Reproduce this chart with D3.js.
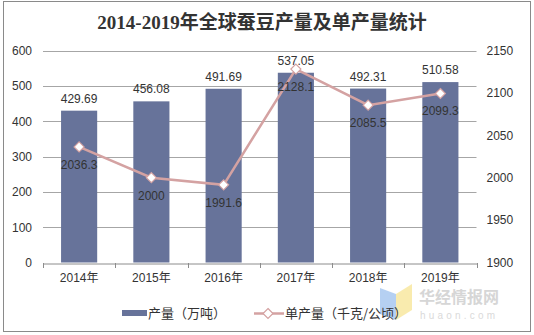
<!DOCTYPE html>
<html><head><meta charset="utf-8">
<script src="https://cdn.jsdelivr.net/npm/d3@7"></script>
<style>body{margin:0;background:#fff}svg{display:block}</style>
</head><body>
<svg id="c" width="534" height="335"></svg>
<script>
const years = ["2014年","2015年","2016年","2017年","2018年","2019年"];
const output = [429.69,456.08,491.69,537.05,492.31,510.58];
const yieldV = [2036.3,2000,1991.6,2128.1,2085.5,2099.3];
const outputLabels = ["429.69","456.08","491.69","537.05","492.31","510.58"];
const yieldLabels = ["2036.3","2000","1991.6","2128.1","2085.5","2099.3"];
const leftTicks = [0,100,200,300,400,500,600];
const rightTicks = [1900,1950,2000,2050,2100,2150];

const svg = d3.select("#c");
const barColor = "#67739a", lineColor = "#d4a2a2";
const font = "'Liberation Sans', Arial, 'Noto Sans CJK SC', sans-serif";
const L = 43, R = 476.5, T = 50.5, B = 262.5;

svg.append("rect").attr("x",3.5).attr("y",1.5).attr("width",527).attr("height",330)
  .attr("fill","#fff").attr("stroke","#8a8a8a").attr("stroke-width",1);

svg.append("text").attr("x",262).attr("y",29).attr("text-anchor","middle")
  .attr("font-family","'Liberation Serif','Noto Sans CJK SC',serif").attr("font-weight","bold")
  .attr("font-size",19).attr("fill","#333").text("2014-2019年全球蚕豆产量及单产量统计");

const x = d3.scaleBand().domain(years).range([L,R]).paddingInner(0.5).paddingOuter(0.25);
const xb = d3.scaleBand().domain(years).range([L,R]);
const yL = d3.scaleLinear().domain([0,600]).range([B,T]);
const yR = d3.scaleLinear().domain([1900,2150]).range([B,T]);

// gridlines
svg.append("g").selectAll("line").data(leftTicks.slice(1)).join("line")
  .attr("x1",L).attr("x2",R).attr("y1",d=>Math.round(yL(d))+0.5).attr("y2",d=>Math.round(yL(d))+0.5)
  .attr("stroke","#a6a6a6");

// bars
svg.append("g").selectAll("rect").data(output).join("rect")
  .attr("x",(d,i)=>x(years[i])).attr("width",x.bandwidth())
  .attr("y",d=>yL(d)).attr("height",d=>B-yL(d)).attr("fill",barColor);

// x axis
const xa = svg.append("g").attr("transform",`translate(0,${Math.round(B)+0.5})`)
  .call(d3.axisBottom(xb).tickSize(0).tickPadding(10));
xa.select(".domain").attr("stroke","#8c8c8c");
xa.selectAll("text").attr("font-family",font).attr("font-size",12).attr("fill","#333");
svg.append("g").selectAll("line").data(years.concat(["end"])).join("line")
  .attr("x1",(d,i)=>Math.round(L+i*xb.step())+0.5).attr("x2",(d,i)=>Math.round(L+i*xb.step())+0.5)
  .attr("y1",Math.round(B)).attr("y2",Math.round(B)+5).attr("stroke","#8c8c8c");

// left axis
const la = svg.append("g").attr("transform",`translate(${L},0)`)
  .call(d3.axisLeft(yL).tickValues(leftTicks).tickSize(0).tickPadding(11).tickFormat(d3.format("d")));
la.select(".domain").remove();
la.selectAll("text").attr("font-family",font).attr("font-size",12).attr("fill","#333");

// right axis
const ra = svg.append("g").attr("transform",`translate(${R},0)`)
  .call(d3.axisRight(yR).tickValues(rightTicks).tickSize(0).tickPadding(10).tickFormat(d3.format("d")));
ra.select(".domain").remove();
ra.selectAll("text").attr("font-family",font).attr("font-size",12).attr("fill","#333");

// bar labels
svg.append("g").selectAll("text").data(output).join("text")
  .attr("x",(d,i)=>x(years[i])+x.bandwidth()/2).attr("y",d=>yL(d)-8)
  .attr("text-anchor","middle").attr("font-family",font).attr("font-size",12).attr("fill","#333")
  .text((d,i)=>outputLabels[i]);

// line
const cx = i => xb(years[i]) + xb.bandwidth()/2;
svg.append("path").datum(yieldV)
  .attr("d",d3.line().x((d,i)=>cx(i)).y(d=>yR(d)))
  .attr("fill","none").attr("stroke",lineColor).attr("stroke-width",2.5);
const diamond = (cxv,cyv,r) => `M${cxv},${cyv-r}L${cxv+r},${cyv}L${cxv},${cyv+r}L${cxv-r},${cyv}Z`;
svg.append("g").selectAll("path").data(yieldV).join("path")
  .attr("d",(d,i)=>diamond(cx(i),yR(d),5))
  .attr("fill","#fff").attr("stroke",lineColor).attr("stroke-width",1.2);

// line labels
svg.append("g").selectAll("text").data(yieldV).join("text")
  .attr("x",(d,i)=>cx(i)).attr("y",d=>yR(d)+22)
  .attr("text-anchor","middle").attr("font-family",font).attr("font-size",12).attr("fill","#333")
  .text((d,i)=>yieldLabels[i]);

// watermark
const wm = svg.append("g");
wm.append("polygon").attr("points","380,288 396,294 396,320 380,314").attr("fill","#a8c8f0").attr("opacity",0.85);
wm.append("polygon").attr("points","396,294 412,284 412,310 396,320").attr("fill","#f8e7a0").attr("opacity",0.85);
wm.append("text").attr("x",419).attr("y",303).attr("font-family","'Noto Sans CJK SC',sans-serif")
  .attr("font-weight","bold").attr("font-size",16).attr("fill","#d6d6d6").text("华经情报网");
wm.append("text").attr("x",420).attr("y",319).attr("font-family",font)
  .attr("font-size",10).attr("letter-spacing",3.2).attr("fill","#dadada").text("huaon.com");

// legend
const lg = svg.append("g").attr("font-family","'Noto Sans CJK SC',sans-serif").attr("font-size",13).attr("fill","#333");
lg.append("rect").attr("x",122).attr("y",310).attr("width",25).attr("height",6).attr("fill",barColor);
lg.append("text").attr("x",148).attr("y",318).text("产量（万吨）");
lg.append("line").attr("x1",254).attr("x2",284).attr("y1",313.5).attr("y2",313.5).attr("stroke",lineColor).attr("stroke-width",2.5);
lg.append("path").attr("d",diamond(268,313.5,5)).attr("fill","#fff").attr("stroke",lineColor).attr("stroke-width",1.2);
lg.append("text").attr("x",285).attr("y",318).text("单产量（千克/公顷）");
</script>
</body></html>
